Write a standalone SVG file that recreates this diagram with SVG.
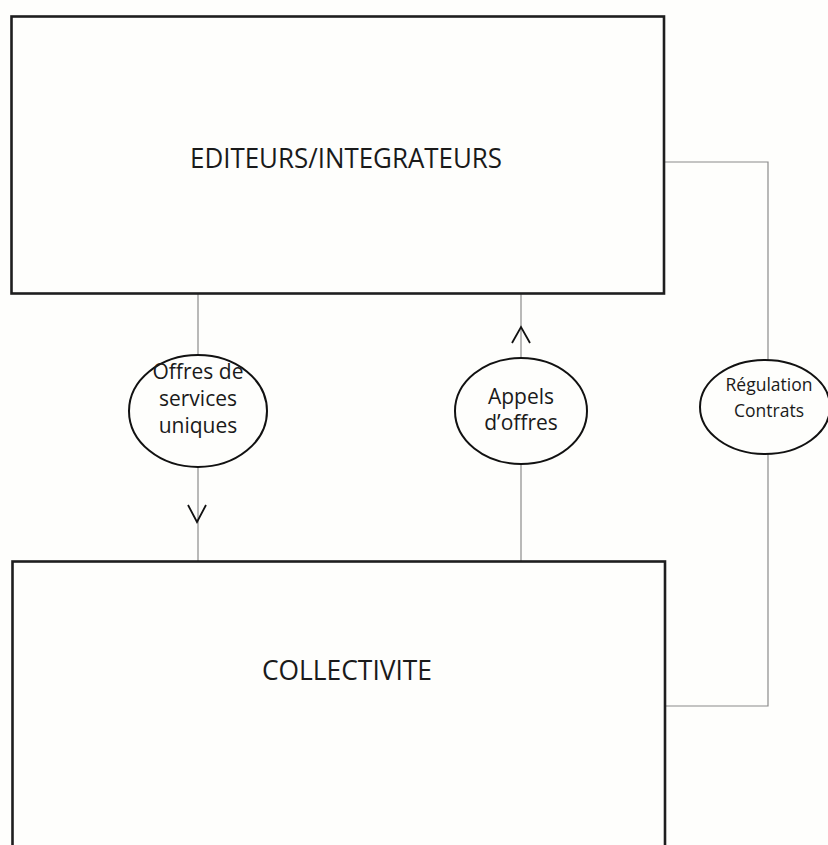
<svg xmlns="http://www.w3.org/2000/svg" width="828" height="845" viewBox="0 0 828 845">
<style>
.box{fill:#fefefc;stroke:#1e1e1e;stroke-width:2.6}
.lbl{fill:#fefefc;stroke:#111;stroke-width:2}
.conn{fill:none;stroke:#8a8a8a;stroke-width:1.2}
.arr{fill:none;stroke:#111;stroke-width:1.8}
text{font-family:"Open Sans","Noto Sans","Liberation Sans",sans-serif;fill:#1a1a1a;text-anchor:middle}
.big{font-size:27px}
.sm{font-size:21px}
.xs{font-size:17.5px}
</style>
<rect width="828" height="845" fill="#fefefc"/>
<g id="connectors">
<line class="conn" x1="198" y1="294" x2="198" y2="561"/>
<line class="conn" x1="521" y1="294" x2="521" y2="561"/>
<polyline class="conn" points="664,162 768,162 768,706 665,706"/>
<polyline class="arr" points="188,505 197,522 206,505"/>
<polyline class="arr" points="512,343 521,327 530,343"/>
</g>
<g id="editeurs">
<rect class="box" x="11.5" y="16.5" width="652.5" height="277"/>
<text class="big" x="346" y="168" textLength="312" lengthAdjust="spacingAndGlyphs">EDITEURS/INTEGRATEURS</text>
</g>
<g id="collectivite">
<rect class="box" x="12.5" y="561.5" width="652.5" height="300"/>
<text class="big" x="347" y="680" textLength="170" lengthAdjust="spacingAndGlyphs">COLLECTIVITE</text>
</g>
<g id="offres">
<ellipse class="lbl" cx="198" cy="411" rx="69" ry="56"/>
<text class="sm" x="198" y="379">Offres de</text>
<text class="sm" x="198" y="406">services</text>
<text class="sm" x="198" y="433">uniques</text>
</g>
<g id="appels">
<ellipse class="lbl" cx="521" cy="411" rx="66" ry="53"/>
<text class="sm" x="521" y="404">Appels</text>
<text class="sm" x="521" y="430">d’offres</text>
</g>
<g id="regulation">
<ellipse class="lbl" cx="765" cy="407" rx="65" ry="47"/>
<text class="xs" x="769" y="391">Régulation</text>
<text class="xs" x="769" y="417">Contrats</text>
</g>
</svg>
